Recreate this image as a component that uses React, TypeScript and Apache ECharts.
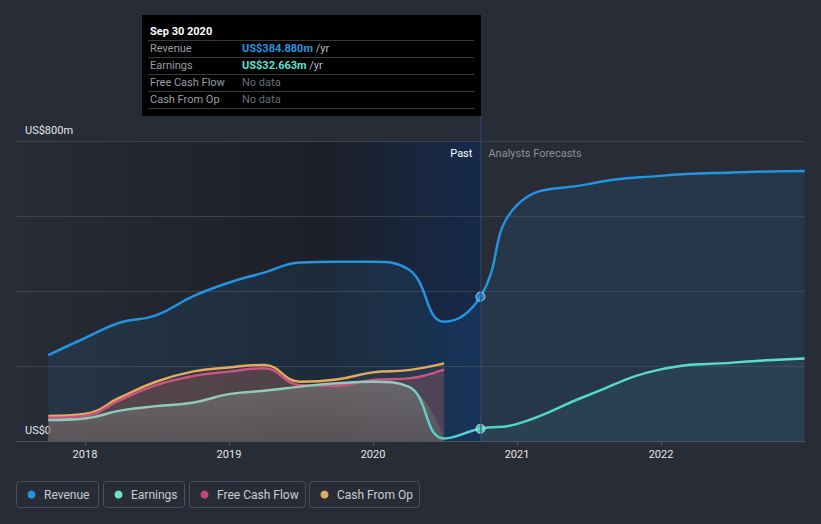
import React, { useEffect, useRef } from 'react';
import * as echarts from 'echarts';

// ---- data ----
const pastDates = ['2017-09-30', '2017-12-31', '2018-03-31', '2018-06-30', '2018-09-30', '2018-12-31', '2019-03-31', '2019-06-30', '2019-09-30', '2019-12-31', '2020-03-31', '2020-06-30', '2020-09-30'];
const revenuePast = [229, 274, 316, 335, 385, 422, 449, 476, 478, 478, 458, 318, 384.88];
const earningsPast = [56, 60, 81, 93, 102, 125, 134, 145, 154, 158, 145, 7, 32.663];
const cashDates = ['2017-09-30', '2017-12-31', '2018-03-31', '2018-06-30', '2018-09-30', '2018-12-31', '2019-03-31', '2019-06-30', '2019-09-30', '2019-12-31', '2020-03-31', '2020-06-30'];
const freeCashFlow = [62, 67, 109, 149, 173, 185, 194, 149, 147, 163, 167, 191];
const cashFromOp = [67, 72, 116, 158, 185, 196, 203, 158, 164, 183, 189, 207];
const forecastDates = ['2020-12-31', '2021-06-30', '2021-12-31', '2022-06-30', '2022-12-31'];
const revenueForecast = [628, 685, 707, 716, 720];
const earningsForecast = [45, 122, 191, 209, 220];
const yearTicks = [2018, 2019, 2020, 2021, 2022];
const highlightStart = '2019-09-30';
const nowDate = '2020-09-30';
const tooltipTitle = 'Sep 30 2020';
const legendNames = ['Revenue', 'Earnings', 'Free Cash Flow', 'Cash From Op'];
const legendColors = ['#2394df', '#6ee0cc', '#c4457f', '#e0aa60'];

const toYear = (d: string) => {
  const dt = new Date(d + 'T00:00:00Z');
  const y = dt.getUTCFullYear();
  const s = Date.UTC(y, 0, 1);
  const e = Date.UTC(y + 1, 0, 1);
  return y + (dt.getTime() - s) / (e - s);
};
const pairs = (dates: string[], vals: number[]) => dates.map((d, i) => [toYear(d), vals[i]]);

const FONT = 'Roboto, "Noto Sans", sans-serif';

export default function App() {
  const ref = useRef<HTMLDivElement>(null);
  useEffect(() => {
    if (!ref.current) return;
    const chart = echarts.init(ref.current, undefined, { renderer: 'svg' });

    const revenueAll = pairs([...pastDates, ...forecastDates], [...revenuePast, ...revenueForecast]);
    const earningsAll = pairs([...pastDates, ...forecastDates], [...earningsPast, ...earningsForecast]);
    const nIdx = pastDates.indexOf(nowDate);
    const earnPastArea = pairs(pastDates.slice(0, nIdx), earningsPast.slice(0, nIdx));
    const earnFcArea = pairs([nowDate, ...forecastDates], [earningsPast[nIdx], ...earningsForecast]);

    const noLine = { width: 0, opacity: 0 };
    const lineBase = { type: 'line', smooth: 0.45, showSymbol: false, symbol: 'none', silent: true };

    const earnLineGrad = new echarts.graphic.LinearGradient(0, 0, 821, 0, [
      { offset: 0, color: '#90cbb9' },
      { offset: 0.49, color: '#90cbb9' },
      { offset: 0.535, color: '#4fd0cc' },
      { offset: 1, color: '#5ee2cc' },
    ], true);

    chart.setOption({
      animation: false,
      backgroundColor: '#272c37',
      grid: { left: 16, right: 16, top: 141, bottom: 83 },
      xAxis: {
        type: 'value',
        min: 2017.521,
        max: 2023,
        axisLine: { lineStyle: { color: '#4c525e', width: 1 } },
        axisTick: { show: true, length: 4, customValues: yearTicks, lineStyle: { color: '#5a606b' } },
        axisLabel: { customValues: yearTicks, color: '#e6e6e6', fontSize: 11, fontFamily: FONT, margin: 8, formatter: (v: number) => String(Math.round(v)) },
        splitLine: { show: false },
      },
      yAxis: {
        type: 'value',
        min: 0,
        max: 800,
        interval: 200,
        axisLine: { show: false },
        axisTick: { show: false },
        splitLine: { lineStyle: { color: '#3b414d', width: 1 } },
        axisLabel: {
          inside: true, margin: 9, verticalAlign: 'bottom', padding: [0, 0, 5, 0],
          color: '#e6e6e6', fontSize: 11, fontFamily: FONT,
          formatter: (v: number) => (v === 800 ? 'US$800m' : v === 0 ? 'US$0' : ''),
        },
      },
      series: [
        { ...lineBase, name: 'Revenue', data: revenueAll, z: 2, lineStyle: { color: '#2394df', width: 2.5 }, areaStyle: { color: 'rgba(35,148,223,0.15)' } },
        { ...lineBase, name: 'cfoArea', data: pairs(cashDates, cashFromOp), z: 3, lineStyle: noLine, areaStyle: { color: 'rgba(232,169,90,0.1)' } },
        { ...lineBase, name: 'fcfArea', data: pairs(cashDates, freeCashFlow), z: 3, lineStyle: noLine, areaStyle: { color: 'rgba(185,100,100,0.38)' } },
        {
          ...lineBase, name: 'earnPastArea', data: earnPastArea, z: 3, lineStyle: noLine,
          areaStyle: { color: new echarts.graphic.LinearGradient(0, 0, 0, 1, [{ offset: 0, color: 'rgba(130,136,134,0.7)' }, { offset: 1, color: 'rgba(98,98,98,0.75)' }]) },
        },
        { ...lineBase, name: 'earnFcArea', data: earnFcArea, z: 3, lineStyle: noLine, areaStyle: { color: 'rgba(88,225,200,0.09)' } },
        { ...lineBase, name: 'Cash From Op', data: pairs(cashDates, cashFromOp), z: 4, lineStyle: { color: '#e6aa5c', width: 2.5 } },
        { ...lineBase, name: 'Free Cash Flow', data: pairs(cashDates, freeCashFlow), z: 4, lineStyle: { color: '#cc5483', width: 2.5 } },
        { ...lineBase, name: 'Earnings', data: earningsAll, z: 4, lineStyle: { color: earnLineGrad, width: 2.5 } },
        {
          type: 'scatter', silent: true, z: 6, symbolSize: 9,
          data: [
            { value: [toYear(nowDate), revenuePast[nIdx]], itemStyle: { color: '#2394df', borderColor: '#dde6f0', borderWidth: 1 } },
            { value: [toYear(nowDate), earningsPast[nIdx]], itemStyle: { color: '#5ee2cc', borderColor: '#dde6f0', borderWidth: 1 } },
          ],
        },
      ],
    });

    const xs = chart.convertToPixel({ xAxisIndex: 0 }, toYear(highlightStart)) as number;
    const xn = chart.convertToPixel({ xAxisIndex: 0 }, toYear(nowDate)) as number;
    const yTop = chart.convertToPixel({ yAxisIndex: 0 }, 800) as number;
    const yBot = chart.convertToPixel({ yAxisIndex: 0 }, 0) as number;
    const gl = 16;

    const tipL = 142, tipT = 15, tipB = 116;
    const rowY = [48, 65, 82, 99];
    const sepY = [40, 57, 74, 91, 108];
    const rowVals = [
      { t: '{v|US$384.880m} {u|/yr}', c: '#2394df' },
      { t: '{v|US$32.663m} {u|/yr}', c: '#5ee2cc' },
      { t: '{n|No data}', c: '' },
      { t: '{n|No data}', c: '' },
    ];

    const graphics: any[] = [
      {
        type: 'rect', z: -10, silent: true,
        shape: { x: gl, y: yTop, width: xs - gl, height: yBot - yTop },
        style: { fill: new echarts.graphic.LinearGradient(0, 0, 1, 0, [{ offset: 0, color: 'rgba(28,30,38,0)' }, { offset: 1, color: 'rgba(28,30,38,0.95)' }]) },
      },
      {
        type: 'rect', z: -10, silent: true,
        shape: { x: xs, y: yTop, width: xn - xs, height: yBot - yTop },
        style: { fill: new echarts.graphic.LinearGradient(0, 0, 1, 0, [{ offset: 0, color: '#1c212b' }, { offset: 1, color: '#16294b' }]) },
      },
      { type: 'line', z: 10, silent: true, shape: { x1: xn + 0.5, y1: tipB, x2: xn + 0.5, y2: yBot }, style: { stroke: '#2c4a76', lineWidth: 1 } },
      { type: 'text', z: 10, silent: true, x: xn - 8, y: yTop + 12, style: { text: 'Past', fill: '#ffffff', font: `11px ${FONT}`, textAlign: 'right', textVerticalAlign: 'middle' } },
      { type: 'text', z: 10, silent: true, x: xn + 8, y: yTop + 12, style: { text: 'Analysts Forecasts', fill: '#8b909a', font: `11px ${FONT}`, textAlign: 'left', textVerticalAlign: 'middle' } },
      { type: 'rect', z: 20, silent: true, shape: { x: tipL, y: tipT, width: xn + 0.5 - tipL, height: tipB - tipT }, style: { fill: '#000000' } },
      { type: 'text', z: 21, silent: true, x: 150, y: 31, style: { text: tooltipTitle, fill: '#ffffff', font: `bold 11px ${FONT}`, textAlign: 'left', textVerticalAlign: 'middle' } },
    ];
    sepY.forEach((y) => graphics.push({ type: 'line', z: 21, silent: true, shape: { x1: 148, y1: y + 0.5, x2: 474, y2: y + 0.5 }, style: { stroke: '#3a3a3a', lineWidth: 1 } }));
    legendNames.forEach((n, i) => {
      graphics.push({ type: 'text', z: 21, silent: true, x: 150, y: rowY[i], style: { text: n, fill: '#9a9ea5', font: `11px ${FONT}`, textAlign: 'left', textVerticalAlign: 'middle' } });
      graphics.push({
        type: 'text', z: 21, silent: true, x: 242, y: rowY[i],
        style: {
          text: rowVals[i].t, textAlign: 'left', textVerticalAlign: 'middle', font: `11px ${FONT}`,
          rich: {
            v: { fill: rowVals[i].c, font: `bold 11px ${FONT}` },
            u: { fill: '#b8bcc2', font: `11px ${FONT}` },
            n: { fill: '#6a6e75', font: `11px ${FONT}` },
          },
        },
      });
    });

    const boxes = [[16, 98], [103, 184], [189, 305], [309, 419]];
    legendNames.forEach((n, i) => {
      const [x0, x1] = boxes[i];
      graphics.push({ type: 'rect', silent: true, z: 10, shape: { x: x0 + 0.5, y: 481.5, width: x1 - x0, height: 26, r: 3 }, style: { fill: 'none', stroke: '#4a505b', lineWidth: 1 } });
      graphics.push({ type: 'circle', silent: true, z: 10, shape: { cx: x0 + 15.5, cy: 494.5, r: 4 }, style: { fill: legendColors[i] } });
      graphics.push({ type: 'text', silent: true, z: 10, x: x0 + 28, y: 494.5, style: { text: n, fill: '#c9cdd3', font: `12px ${FONT}`, textAlign: 'left', textVerticalAlign: 'middle' } });
    });

    chart.setOption({ graphic: graphics });

    return () => chart.dispose();
  }, []);

  return <div ref={ref} style={{ position: 'fixed', left: 0, top: 0, width: 821, height: 524 }} />;
}
